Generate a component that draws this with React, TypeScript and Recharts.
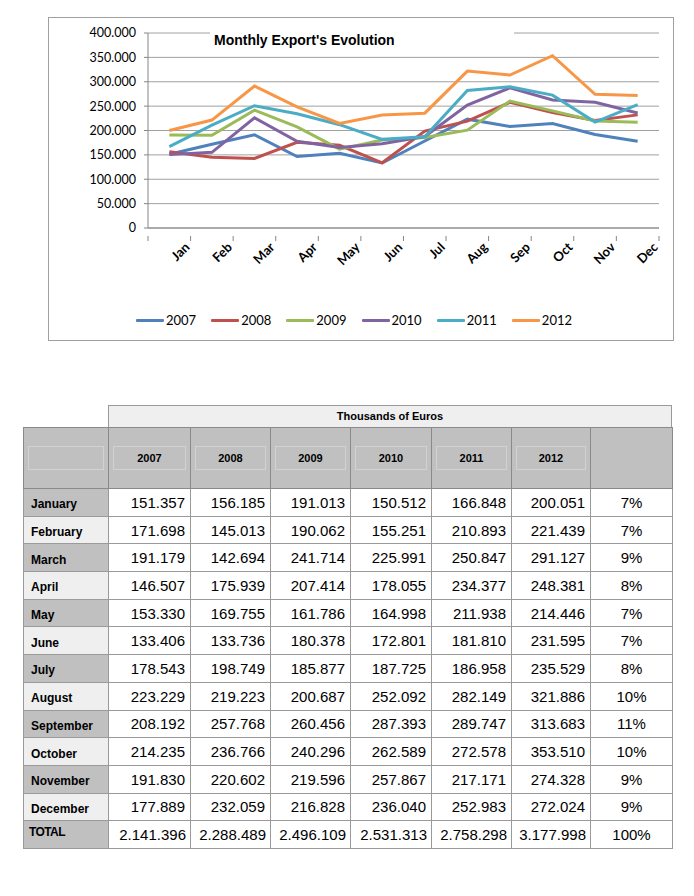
import React from 'react';
import {LineChart, Line, XAxis, YAxis, CartesianGrid, Legend} from 'recharts';

const months = ['Jan', 'Feb', 'Mar', 'Apr', 'May', 'Jun', 'Jul', 'Aug', 'Sep', 'Oct', 'Nov', 'Dec'];
const monthNames = ['January', 'February', 'March', 'April', 'May', 'June', 'July', 'August', 'September', 'October', 'November', 'December'];
const years = ['2007', '2008', '2009', '2010', '2011', '2012'];
const colors = ['#4F81BD', '#C0504D', '#9BBB59', '#8064A2', '#4BACC6', '#F79646'];

const exports2007 = [151357, 171698, 191179, 146507, 153330, 133406, 178543, 223229, 208192, 214235, 191830, 177889];
const exports2008 = [156185, 145013, 142694, 175939, 169755, 133736, 198749, 219223, 257768, 236766, 220602, 232059];
const exports2009 = [191013, 190062, 241714, 207414, 161786, 180378, 185877, 200687, 260456, 240296, 219596, 216828];
const exports2010 = [150512, 155251, 225991, 178055, 164998, 172801, 187725, 252092, 287393, 262589, 257867, 236040];
const exports2011 = [166848, 210893, 250847, 234377, 211938, 181810, 186958, 282149, 289747, 272578, 217171, 252983];
const exports2012 = [200051, 221439, 291127, 248381, 214446, 231595, 235529, 321886, 313683, 353510, 274328, 272024];
const series = [exports2007, exports2008, exports2009, exports2010, exports2011, exports2012];

const totals = [2141396, 2288489, 2496109, 2531313, 2758298, 3177998];
const shares = ['7%', '7%', '9%', '8%', '7%', '7%', '8%', '10%', '11%', '10%', '9%', '9%'];
const totalShare = '100%';

const yTicks = [0, 50000, 100000, 150000, 200000, 250000, 300000, 350000, 400000];

const chartData = months.map((m, i) => {
    const row: Record<string, number | string> = {month: m};
    years.forEach((y, j) => {
        row[y] = series[j][i];
    });
    return row;
});

const dots = (n: number) => String(n).replace(/\B(?=(\d{3})+(?!\d))/g, '.');

const BAND = 512 / 12;

const MonthTick = (props: any) => {
    const {x, y, payload, index} = props;
    return (
        <g>
            <line x1={x - BAND / 2} y1={y} x2={x - BAND / 2} y2={y + 5} stroke='#868686' />
            {index === months.length - 1 && (
                <line x1={x + BAND / 2} y1={y} x2={x + BAND / 2} y2={y + 5} stroke='#868686' />
            )}
            <text
                x={x + 21}
                y={y + 12}
                textAnchor='end'
                transform={`rotate(-45 ${x + 21} ${y + 12})`}
                fontFamily='Lato'
                fontWeight={700}
                fontSize={13}
                fill='#000'
            >
                {payload.value}
            </text>
        </g>
    );
};

const LegendContent = () => (
    <div style={{display: 'flex', justifyContent: 'center', alignItems: 'center', height: 40, gap: 15, fontFamily: 'Lato', fontSize: 13}}>
        {years.map((y, i) => (
            <div key={y} style={{display: 'flex', alignItems: 'center'}}>
                <div style={{width: 28, height: 3, background: colors[i], marginRight: 2, borderRadius: 1}} />
                <span>{y}</span>
            </div>
        ))}
    </div>
);

const colWidths = [85, 82, 80, 80, 81, 80, 79, 82];
const cellBorder = '1px solid #9a9a9a';

export default function App() {
    return (
        <div style={{position: 'absolute', left: 0, top: 0, width: 694, height: 896, background: '#fff', fontFamily: '"Liberation Sans", Arial, sans-serif'}}>
            <div style={{position: 'absolute', left: 48, top: 17, width: 626, height: 324, border: '1px solid #a0a0a0', boxSizing: 'border-box'}}>
                <LineChart width={624} height={322} data={chartData} margin={{top: 15, right: 14, left: 0, bottom: 0}}>
                    <CartesianGrid vertical={false} stroke='#a0a0a0' />
                    <XAxis
                        dataKey='month'
                        height={72}
                        padding={{left: BAND / 2, right: BAND / 2}}
                        tickLine={false}
                        axisLine={{stroke: '#868686'}}
                        tick={<MonthTick />}
                        interval={0}
                    />
                    <YAxis
                        width={99}
                        domain={[0, 400000]}
                        ticks={yTicks}
                        tickSize={4}
                        tickMargin={8}
                        axisLine={{stroke: '#868686'}}
                        tickLine={{stroke: '#868686'}}
                        tick={{fontFamily: 'Lato', fontSize: 12.5, fill: '#000'}}
                        tickFormatter={(v: number) => (v === 0 ? '0' : dots(v))}
                    />
                    <Legend verticalAlign='bottom' height={40} content={<LegendContent />} />
                    {years.map((y, i) => (
                        <Line
                            key={y}
                            type='linear'
                            dataKey={y}
                            stroke={colors[i]}
                            strokeWidth={3}
                            dot={false}
                            isAnimationActive={false}
                        />
                    ))}
                </LineChart>
                <div style={{position: 'absolute', left: 161, top: 9, width: 304, height: 26, background: '#fff', fontWeight: 700, fontSize: 14, lineHeight: '26px', paddingLeft: 4, boxSizing: 'border-box'}}>
                    Monthly Export's Evolution
                </div>
            </div>

            <div style={{position: 'absolute', left: 108, top: 405, width: 564, height: 22, background: '#efefef', border: cellBorder, borderBottom: 'none', boxSizing: 'border-box', fontWeight: 700, fontSize: 11, textAlign: 'center', lineHeight: '21px'}}>
                Thousands of Euros
            </div>

            <table style={{position: 'absolute', left: 23, top: 427, borderCollapse: 'collapse', tableLayout: 'fixed', width: 649, border: '1px solid #7a7a7a'}}>
                <colgroup>
                    {colWidths.map((w, i) => (
                        <col key={i} style={{width: w}} />
                    ))}
                </colgroup>
                <tbody>
                    <tr style={{height: 61, background: '#c0c0c0'}}>
                        {['', ...years, null].map((y, i) => (
                            <td key={i} style={{border: '1px solid #8a8a8a', padding: 0}}>
                                {y !== null && (
                                    <div style={{margin: '0 4px', height: 22, border: '1px solid #d2d2d2', display: 'flex', alignItems: 'center', justifyContent: 'center', fontWeight: 700, fontSize: 11}}>
                                        {y}
                                    </div>
                                )}
                            </td>
                        ))}
                    </tr>
                    {monthNames.map((name, i) => (
                        <tr key={name} style={{height: 27.7}}>
                            <td style={{background: i % 2 === 0 ? '#c0c0c0' : '#efefef', border: cellBorder, fontWeight: 700, fontSize: 12, padding: '4px 0 0 7px', verticalAlign: 'middle'}}>
                                {name}
                            </td>
                            {series.map((s, j) => (
                                <td key={j} style={{border: cellBorder, textAlign: 'right', fontSize: 15, padding: '0 5px 0 0'}}>
                                    {dots(s[i])}
                                </td>
                            ))}
                            <td style={{border: cellBorder, textAlign: 'center', fontSize: 15}}>{shares[i]}</td>
                        </tr>
                    ))}
                    <tr style={{height: 27.7}}>
                        <td style={{background: '#c0c0c0', border: cellBorder, fontWeight: 700, fontSize: 12, letterSpacing: -0.6, padding: '0 0 6px 5px'}}>TOTAL</td>
                        {totals.map((t, j) => (
                            <td key={j} style={{border: cellBorder, textAlign: 'right', fontSize: 15, padding: '0 4px 0 0'}}>
                                {dots(t)}
                            </td>
                        ))}
                        <td style={{border: cellBorder, textAlign: 'center', fontSize: 15}}>{totalShare}</td>
                    </tr>
                </tbody>
            </table>
        </div>
    );
}
